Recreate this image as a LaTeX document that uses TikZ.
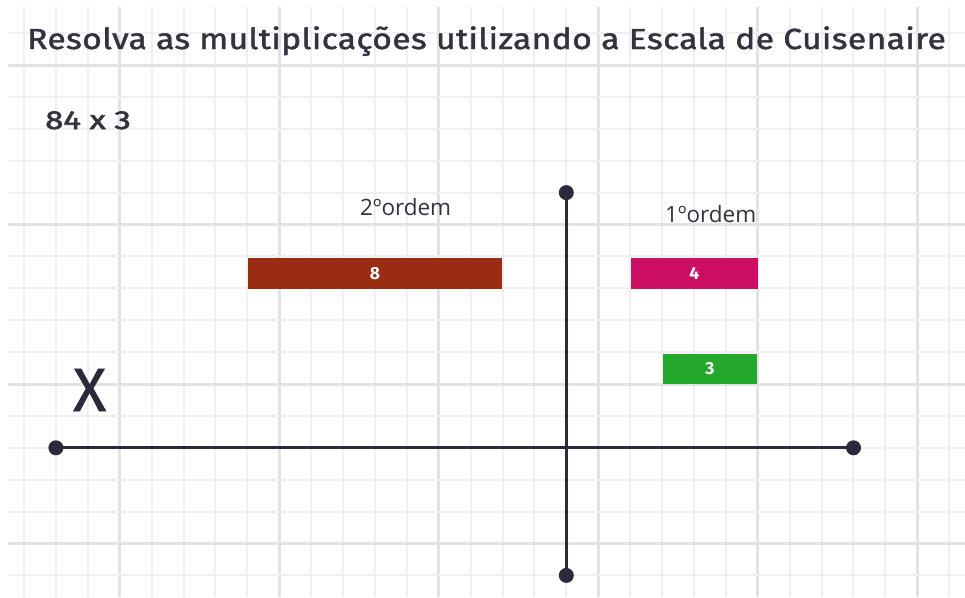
\documentclass[tikz,border=0pt]{standalone}
\usepackage{fontspec}
\setmainfont{Fira Sans}
\newfontfamily\titlefont[FakeBold=1.6,FakeStretch=1.16,LetterSpace=1.3]{Fira Sans}
\newfontfamily\semifont[FakeBold=2.4,FakeStretch=1.27]{Fira Sans}
\newfontfamily\xfont[FakeBold=1]{Fira Sans}
\newfontfamily\labelfont{Open Sans}
\definecolor{ink}{HTML}{2A2A3C}
\definecolor{txt}{HTML}{33333F}
\definecolor{gminor}{HTML}{F0F0F0}
\definecolor{gmajor}{HTML}{E3E3E3}
\definecolor{brown8}{HTML}{9A2C14}
\definecolor{pink4}{HTML}{CC0E62}
\definecolor{green3}{HTML}{23A82B}
\tikzset{
  minorline/.style={draw=gminor, line width=2pt},
  majorline/.style={draw=gmajor, line width=3pt},
  axisline/.style={draw=ink, line width=3.2pt},
  dotnode/.style={circle, fill=ink, inner sep=0pt, minimum size=15pt},
  rodbar/.style={anchor=north west, inner sep=0pt, minimum height=31pt, text=white, font=\bfseries\fontsize{17.5}{17.5}\selectfont},
  ordemlabel/.style={anchor=base west, inner sep=0pt, text=txt, font=\labelfont\fontsize{22.5}{23}\selectfont},
}
\begin{document}
\begin{tikzpicture}[x=1pt,y=-1pt]
\useasboundingbox (0,0) rectangle (965,597);
\fill[white] (0,0) rectangle (965,597);
% grid
\foreach \k in {0,...,29}{
  \pgfmathsetmacro{\xx}{24+31.9*\k}
  \pgfmathtruncatemacro{\m}{mod(\k,5)}
  \ifnum\m=3 \path[majorline] (\xx,7) -- (\xx,597);
  \else \path[minorline] (\xx,7) -- (\xx,597); \fi
}
\foreach \j in {0,...,17}{
  \pgfmathsetmacro{\yy}{33.1+31.9*\j}
  \pgfmathtruncatemacro{\m}{mod(\j,5)}
  \ifnum\m=1 \path[majorline] (8,\yy) -- (965,\yy);
  \else \path[minorline] (8,\yy) -- (965,\yy); \fi
}
% title
\node[anchor=base west, inner sep=0pt, text=txt, font=\titlefont\fontsize{29}{30}\selectfont] (title) at (27,49) {Resolva as multiplicações utilizando a Escala de Cuisenaire};
\node[anchor=base west, inner sep=0pt, text=txt, font=\semifont\fontsize{26}{26}\selectfont] (problem) at (45,129) {84 x 3};
\node[ordemlabel] (ordem2) at (360,215) {2ºordem};
\node[ordemlabel] (ordem1) at (665,222) {1ºordem};
\node[anchor=base west, inner sep=0pt, text=ink, font=\xfont\fontsize{61}{61}\selectfont] (times) at (73,411) {X};
% rods
\node[rodbar, fill=brown8, minimum width=254.5pt] (rod8) at (247.5,257.5) {8};
\node[rodbar, fill=pink4, minimum width=127pt] (rod4) at (630.5,257.5) {4};
\node[rodbar, fill=green3, minimum width=94pt, minimum height=30pt] (rod3) at (662.7,353.3) {3};
% axes
\node[dotnode] (left) at (55.9,447.8) {};
\node[dotnode] (right) at (853.5,447.8) {};
\node[dotnode] (top) at (566.3,192.6) {};
\node[dotnode] (bottom) at (566.3,575.4) {};
\draw[axisline] (left.center) -- (right.center);
\draw[axisline] (top.center) -- (bottom.center);
\end{tikzpicture}
\end{document}
